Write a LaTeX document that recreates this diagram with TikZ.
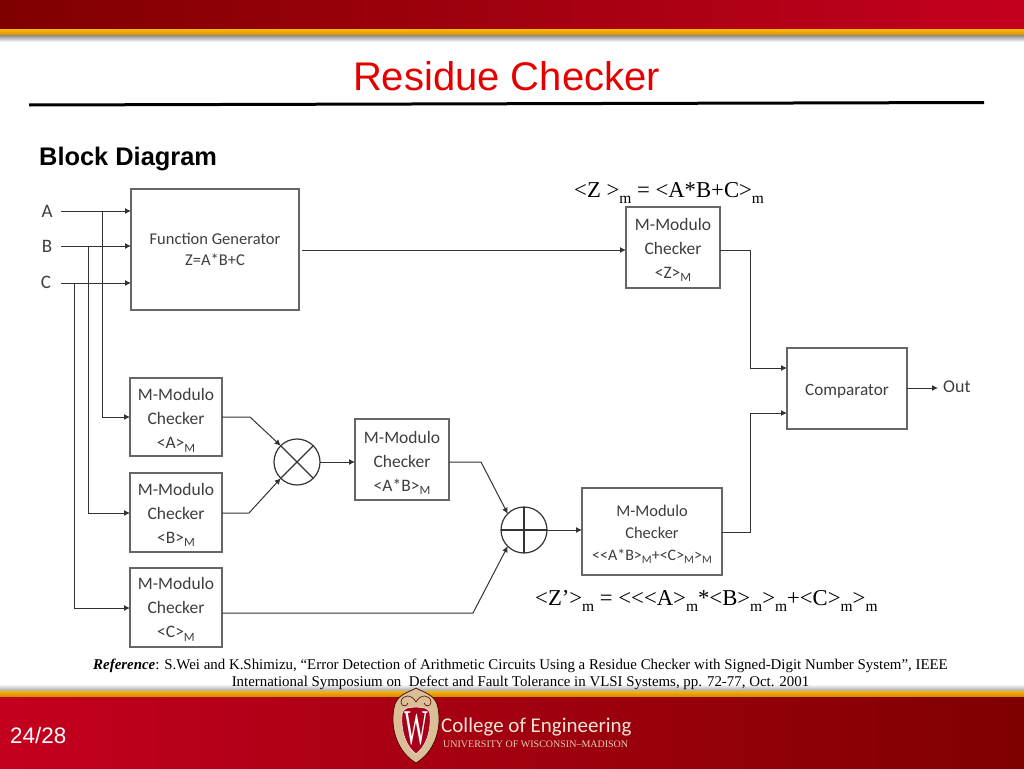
\documentclass[tikz,border=0pt]{standalone}
\usepackage{fontspec}
\setmainfont{Liberation Sans}
\newfontfamily\serifF{Liberation Serif}
\newfontfamily\boxF{Carlito}
\usetikzlibrary{arrows.meta,calc}
\definecolor{dk}{HTML}{7F0000}
\definecolor{rd}{HTML}{C4001F}
\definecolor{org}{HTML}{F4A006}
\definecolor{ln}{HTML}{333333}
\definecolor{bx}{HTML}{666666}
\definecolor{tx}{HTML}{3E3E3E}
\definecolor{tan}{HTML}{D9BE96}
\tikzset{
  blk/.style={draw=bx,line width=1.5pt,fill=white,inner sep=0pt,outer sep=0pt,align=center,text=tx,anchor=north west},
  bsz/.style 2 args={minimum width=#1pt,minimum height=#2pt},
  fnt/.style 2 args={font=\boxF\fontsize{#1}{#2}\selectfont},
  wire/.style={draw=ln,line width=1pt},
  arr/.style={wire,-{Latex[length=6pt,width=6pt]}},
  opc/.style={circle,draw=ln,line width=1.2pt,minimum size=46pt,inner sep=0pt,outer sep=0pt},
  opl/.style={draw=ln,line width=1.2pt},
  sig/.style={font=\boxF\fontsize{19}{19}\selectfont,text=tx,inner sep=0pt},
  formula/.style={font=\serifF\fontsize{22.7}{23}\selectfont,text=black,inner sep=0pt,anchor=west},
}
\newcommand{\sbm}[1]{\raisebox{-0.27em}{\fontsize{15.5}{15.5}\selectfont #1}}
\newcommand{\sbb}[1]{\raisebox{-0.22em}{\scalebox{0.72}{#1}}}
\newcommand{\tp}[1]{\rule{0pt}{#1pt}}
\begin{document}
\begin{tikzpicture}[x=1pt,y=-1pt]
\useasboundingbox (0,0) rectangle (1024,768);
% top band
\shade[left color=dk,right color=rd,draw=none] (0,0) rectangle (1024,30);
\shade[top color=org!80!yellow,bottom color=org!85!black,draw=none] (0,30) rectangle (1024,36);
\shade[top color=black!40,bottom color=white,draw=none] (0,36) rectangle (1024,42);
% bottom band
\shade[top color=white,bottom color=black!35,draw=none] (0,684) rectangle (1024,691);
\shade[top color=org!80!yellow,bottom color=org!85!black,draw=none] (0,691) rectangle (1024,697);
\shade[left color=rd,right color=dk,draw=none] (0,697) rectangle (1024,768);
% title
\node (title) [font=\fontsize{40}{40}\selectfont,text=red!90!black,inner sep=0pt] at (506.5,76) {Residue Checker};
\fill[black] (29,103.5) -- (984,101) -- (984,104) -- (29,106.5) -- cycle;
\node (bd) [font=\bfseries\fontsize{25.4}{25}\selectfont,inner sep=0pt,anchor=west,text=black] at (39,158.5) {Block Diagram};
% blocks
\node (fg) [blk,bsz={168}{121},fnt={16.5}{21}] at (131,189) {Function Generator\\Z=A*B+C};
\node (ca) [blk,bsz={92}{78},fnt={17.5}{24}] at (130,378) {\tp{19}M-Modulo\\Checker\\{<A>\sbb{M}}};
\node (cb) [blk,bsz={92}{79},fnt={17.5}{24}] at (130,473) {\tp{17}M-Modulo\\Checker\\{<B>\sbb{M}}};
\node (cc) [blk,bsz={92}{79},fnt={17.5}{24}] at (130,568) {\tp{16}M-Modulo\\Checker\\{<C>\sbb{M}}};
\node (cab) [blk,bsz={94}{81},fnt={17.5}{24}] at (355,419) {\tp{19}M-Modulo\\Checker\\{<A*B>\sbb{M}}};
\node (cz) [blk,bsz={94}{81},fnt={17.5}{24}] at (626,207) {\tp{17}M-Modulo\\Checker\\{<Z>\sbb{M}}};
\node (cs) [blk,bsz={140}{87},fnt={16.4}{22}] at (582,488) {\tp{17}M-Modulo\\Checker\\{\fontsize{16}{22}\selectfont <{}<A*B>\sbb{M}+<C>\sbb{M}>\sbb{M}}};
\node (cmp) [blk,bsz={120}{81},fnt={17.2}{20}] at (787,348) {\tp{17}Comparator};
% operators
\node (mul) [opc] at (297,462) {};
\draw[opl] (mul.north west) -- (mul.south east) (mul.north east) -- (mul.south west);
\node (sum) [opc] at (524,530) {};
\draw[opl] (sum.north) -- (sum.south) (sum.west) -- (sum.east);
% signal labels
\node (la) [sig] at (47,211) {A};
\node (lb) [sig] at (47,246) {B};
\node (lc) [sig] at (46,282) {C};
\node (lo) [font=\boxF\fontsize{18}{18}\selectfont,text=tx,inner sep=0pt,anchor=west] at (943,387) {Out};
% wiring coordinates
\coordinate (ia) at (61,211);
\coordinate (ib) at (61,246);
\coordinate (ic) at (61,283);
\coordinate (ja) at (102,211);
\coordinate (jb) at (88,246);
\coordinate (jc) at (74,283);
\coordinate (ta) at (129,417);
\coordinate (tb) at (129,513);
\coordinate (tc) at (129,608);
% inputs
\draw[arr] (ia) -- (fg.west |- ia);
\draw[arr] (ib) -- (fg.west |- ib);
\draw[arr] (ic) -- (fg.west |- ic);
\draw[arr] (ja) |- (ca.west |- ta);
\draw[arr] (jb) |- (cb.west |- tb);
\draw[arr] (jc) |- (cc.west |- tc);
% to multiplier
\coordinate (ka) at (250,417);
\coordinate (kb) at (249,513);
\coordinate (kc) at (473,613);
\coordinate (kd) at (481,462);
\draw[arr] (ca.east |- ka) -- (ka) -- (mul.north west);
\draw[arr] (cb.east |- kb) -- (kb) -- (mul.south west);
\draw[arr] (mul.east) -- (cab.west |- mul.east);
\draw[arr] (cab.east |- kd) -- (kd) -- (sum.north west);
\draw[arr] (cc.east |- kc) -- (kc) -- (sum.south west);
\draw[arr] (sum.east) -- (cs.west |- sum.east);
% top path
\coordinate (fo) at (302,250);
\draw[arr] (fo) -- (cz.west |- fo);
% comparator
\coordinate (cmpa) at (785,368);
\coordinate (cmpb) at (785,413);
\coordinate (zo) at (750,250);
\coordinate (so) at (750,532);
\draw[arr] (cz.east |- zo) -- (zo) -- (zo |- cmpa) -- (cmpa -| cmp.west);
\draw[arr] (cs.east |- so) -- (so) -- (so |- cmpb) -- (cmpb -| cmp.west);
\coordinate (oo) at (938,388);
\draw[arr] (cmp.east |- oo) -- (oo);
% formulas
\node (f1) [formula] at (574,193) {<Z >\sbm{m} = <A*B+C>\sbm{m}};
\node (f2) [formula] at (535,601) {<Z’>\sbm{m} = <{}<{}<A>\sbm{m}*<B>\sbm{m}>\sbm{m}+<C>\sbm{m}>\sbm{m}};
% reference
\node (ref) [font=\serifF\fontsize{14.9}{17}\selectfont,align=center,inner sep=0pt,text=black] at (520.5,674) {\textbf{\textit{Reference}}: S.Wei and K.Shimizu, “Error Detection of Arithmetic Circuits Using a Residue Checker with Signed-Digit Number System”, IEEE\\International Symposium on\ \ Defect and Fault Tolerance in VLSI Systems, pp. 72-77, Oct. 2001};
% footer
\node (pg) [font=\fontsize{22.4}{22}\selectfont,text=white,inner sep=0pt,anchor=west] at (10,735) {24/28};
% crest
\fill[tan,draw=dk!60!black,line width=0.7pt] (416,688) .. controls (410,692) and (396,694) .. (394,708) .. controls (390,730) and (398,752) .. (416,763) .. controls (434,752) and (442,730) .. (438,708) .. controls (436,694) and (422,692) .. (416,688) -- cycle;
\draw[dk!60!black,line width=0.6pt] (416,702) .. controls (412,694) and (402,694) .. (401,702) .. controls (401,707) and (407,707) .. (408,703);
\draw[dk!60!black,line width=0.6pt] (416,702) .. controls (420,694) and (430,694) .. (431,702) .. controls (431,707) and (425,707) .. (424,703);
\fill[rd!85!black,draw=white!85!tan,line width=0.5pt] (416,707) .. controls (410,708) and (402,706) .. (402,716) .. controls (401,732) and (406,746) .. (416,754) .. controls (426,746) and (431,732) .. (430,716) .. controls (430,706) and (422,708) .. (416,707) -- cycle;
\node (w) [font=\serifF\fontsize{50}{50}\selectfont,text=white,inner sep=0pt] at (416,728) {\scalebox{0.5}[1]{W}};
\node (coe) [font=\boxF\fontsize{21}{21}\selectfont,text=tan!40!white,inner sep=0pt,anchor=west] at (441,727) {College of Engineering};
\node (uw) [font=\serifF\fontsize{10}{10}\selectfont,text=tan!70!white,inner sep=0pt,anchor=west] at (443,744) {UNIVERSITY OF WISCONSIN–MADISON};
\end{tikzpicture}
\end{document}
